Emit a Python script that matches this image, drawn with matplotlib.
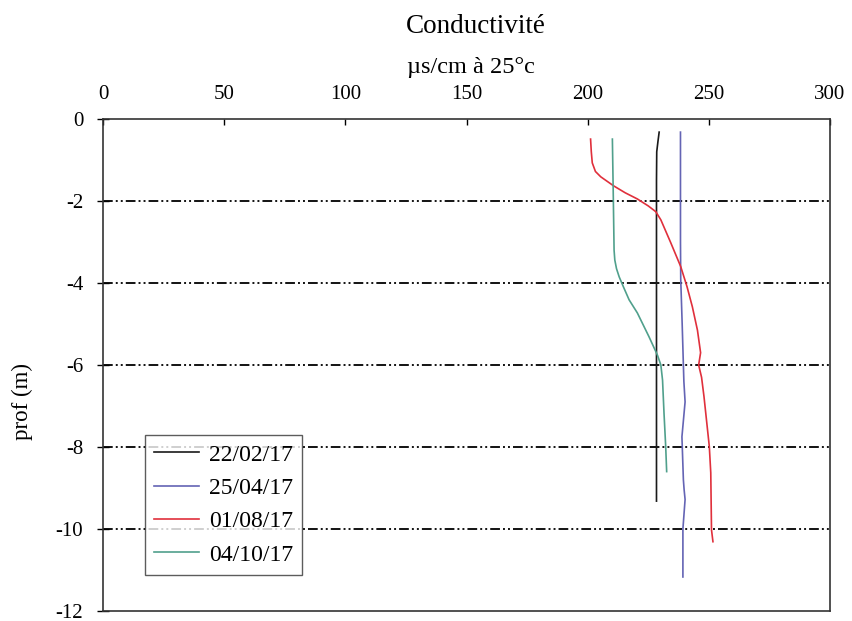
import matplotlib
matplotlib.use('Agg')
import matplotlib.pyplot as plt

plt.rcParams['font.family'] = ['Liberation Serif', 'DejaVu Serif']
plt.rcParams['axes.unicode_minus'] = False
plt.rcParams['lines.scale_dashes'] = False

# profils de conductivité (µs/cm à 25°c) en fonction de la profondeur (m)
prof_2202 = [-0.32, -0.55, -0.8, -1.5, -3.0, -5.0, -7.0, -9.32]
cond_2202 = [229.5, 229.0, 228.5, 228.4, 228.4, 228.4, 228.4, 228.4]

prof_2504 = [-0.32, -1.5, -3.0, -3.9, -5.0, -6.0, -6.4, -6.9, -7.75, -8.8, -9.04, -9.28, -10.0, -11.17]
cond_2504 = [238.3, 238.3, 238.3, 238.4, 239.0, 239.5, 239.7, 240.2, 238.9, 239.5, 239.8, 240.2, 239.3, 239.3]

prof_0108 = [-0.49, -0.8, -1.07, -1.28, -1.41, -1.63, -1.8, -1.95, -2.12, -2.26, -2.46, -3.02, -3.6,
             -4.09, -4.58, -5.15, -5.7, -6.0, -6.3, -6.77, -7.99, -8.63, -10.02, -10.31]
cond_0108 = [201.2, 201.5, 201.9, 203.2, 205.4, 210.7, 215.5, 220.5, 225.0, 228.1, 230.2, 234.3, 238.4,
             241.0, 243.2, 245.3, 246.6, 245.8, 247.0, 248.0, 250.2, 250.8, 251.1, 251.7]

prof_0410 = [-0.49, -1.98, -3.2, -3.44, -3.65, -3.85, -4.1, -4.41, -4.73, -5.31, -5.76, -6.0, -6.37,
             -7.17, -7.99, -8.6]
cond_0410 = [210.2, 210.6, 210.9, 211.2, 211.9, 213.0, 214.8, 217.1, 220.5, 225.3, 228.8, 230.2, 230.9,
             231.5, 232.2, 232.6]

dates = ['22/02/17', '25/04/17', '01/08/17', '04/10/17']
couleurs = ['#1a1a1a', '#6464b4', '#e0303c', '#50a08c']

x_ticks = [0, 50, 100, 150, 200, 250, 300]
y_ticks = [0, -2, -4, -6, -8, -10, -12]

fig = plt.figure(figsize=(8.52, 6.21), dpi=100)
fig.patch.set_facecolor('white')
ax = fig.add_axes([103 / 852, 1 - 611 / 621, 727 / 852, 492 / 621])

series = [(cond_2202, prof_2202), (cond_2504, prof_2504),
          (cond_0108, prof_0108), (cond_0410, prof_0410)]
for (c, p), lab, col in zip(series, dates, couleurs):
    ax.plot(c, p, color=col, lw=1.2, label=lab, zorder=3)

ax.set_xlim(0, 300)
ax.set_ylim(-12, 0)
ax.set_xticks(x_ticks)
ax.set_yticks(y_ticks)

ax.xaxis.tick_top()
ax.tick_params(axis='x', direction='in', length=4.5, width=1.0, pad=11, labelsize=15)
ax.tick_params(axis='y', direction='inout', length=8.5, width=1.0, pad=10, labelsize=15)
for s in ax.spines.values():
    s.set_linewidth(1.2)
    s.set_color('#333333')

# lignes de grille horizontales en tiret-point-point
for y in y_ticks[1:-1]:
    ax.axhline(y, color='black', lw=1.3, linestyle=(0, (7, 2.2, 1.4, 2.2, 1.4, 2.2)), zorder=1)

fig.text(476 / 852, 1 - 33 / 621, 'Conductivité', ha='center', va='baseline', fontsize=19.5)
fig.text(471 / 852, 1 - 73 / 621, 'µs/cm à 25°c', ha='center', va='baseline', fontsize=17.5)
fig.text(22 / 852, 1 - 401 / 621, 'prof (m)', ha='center', va='center', rotation=90, fontsize=16.5)

leg = ax.legend(loc='lower left', bbox_to_anchor=(42 / 727, 36 / 492), borderaxespad=0,
                fontsize=17, frameon=True, fancybox=False, handlelength=1.9,
                handletextpad=0.4, labelspacing=0.5, borderpad=0.4)
leg.get_frame().set_edgecolor('#333333')
leg.get_frame().set_linewidth(1.0)

fig.savefig('out.png', dpi=100, facecolor='white')
